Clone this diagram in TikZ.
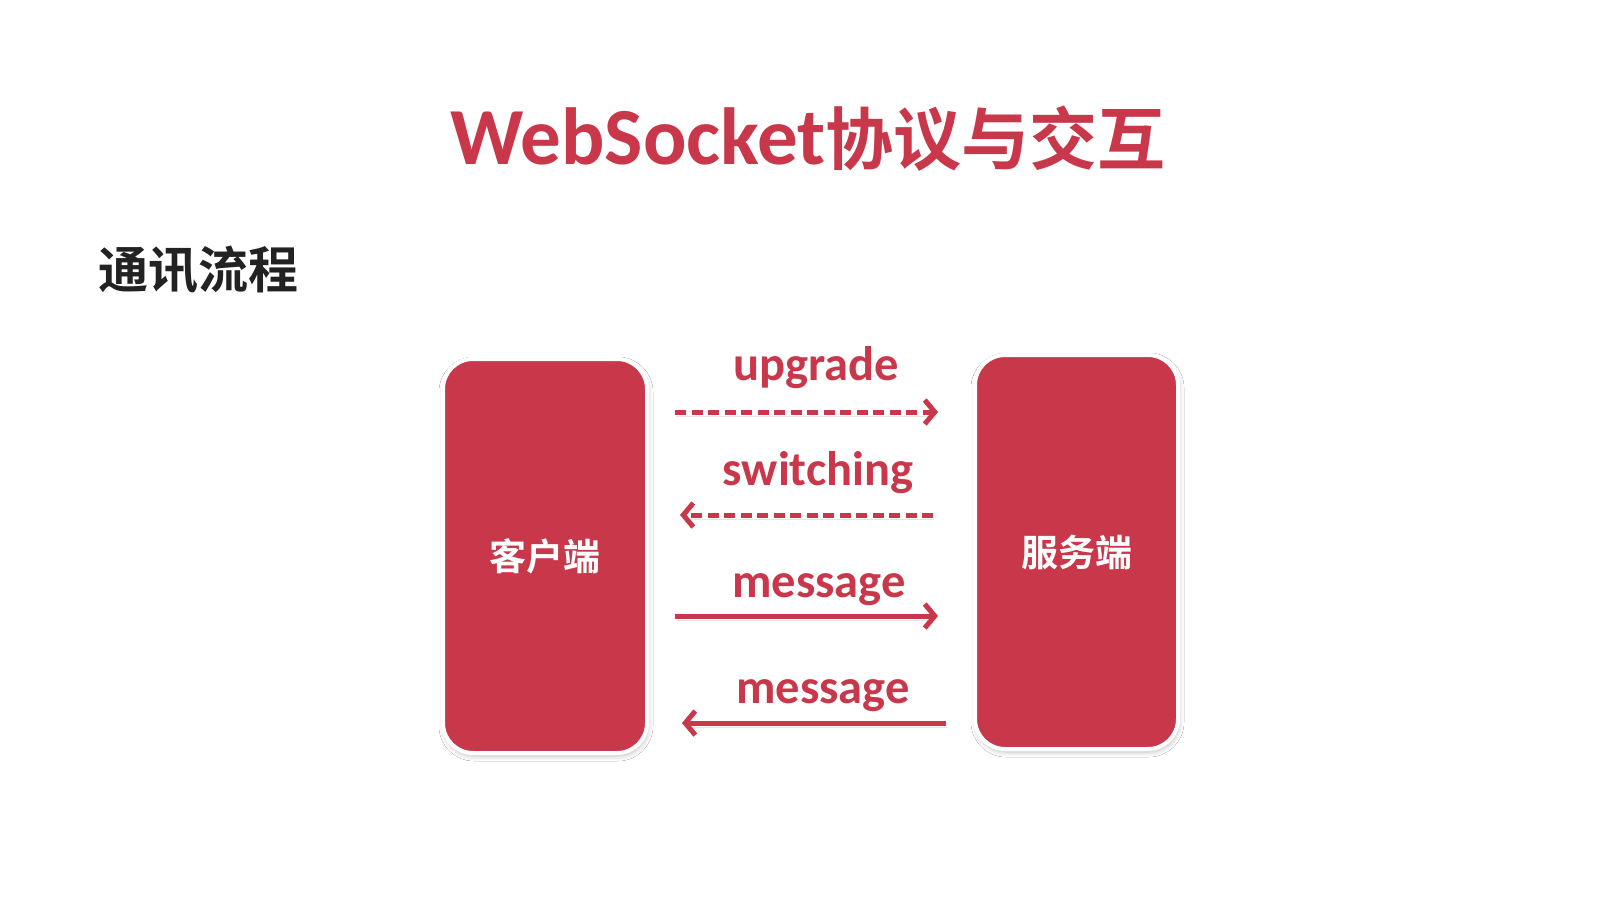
\documentclass[tikz,border=0pt]{standalone}
\usepackage{fontspec}
\setmainfont{Carlito}
\newfontfamily\cjk{Noto Sans CJK SC}[BoldFont={* Bold}]
\usetikzlibrary{arrows.meta,shadows.blur}
\definecolor{wsred}{RGB}{200,56,74}
\definecolor{ink}{RGB}{34,34,34}
\tikzset{
  endbox/.style={rounded corners=30pt, fill=wsred, draw=white, line width=4pt,
    minimum width=204pt, minimum height=394pt, inner sep=0pt,
    blur shadow={shadow blur steps=8, shadow xshift=1pt, shadow yshift=-3pt, shadow opacity=25, shadow blur radius=5pt},
    font=\cjk\bfseries\fontsize{37}{37}\selectfont, text=white},
  lbl/.style={anchor=base, inner sep=0pt, text=wsred,
    font=\bfseries\fontsize{48.5}{48.5}\selectfont},
  flow/.style={draw=wsred, line width=5pt, -{Straight Barb[length=10pt,width=24pt]},
    preaction={draw=black, draw opacity=0.10, transform canvas={yshift=-4pt, xshift=1pt}}},
  dashflow/.style={flow, dash pattern=on 11pt off 5.5pt},
}
\begin{document}
\begin{tikzpicture}[x=1pt,y=-1pt]
\useasboundingbox[fill=white] (0,0) rectangle (1620,911);
% title
\node[anchor=base west, inner sep=0pt, text=wsred] (title) at (450,164)
  {\bfseries\fontsize{81}{81}\selectfont WebSocket\cjk\bfseries\fontsize{68}{68}\selectfont 协议与交互};
% heading
\node[inner sep=0pt, text=ink, font=\cjk\bfseries\fontsize{50}{50}\selectfont] (head) at (198.5,270) {通讯流程};
% boxes
\node[endbox] (client) at (545,556) {客户端};
\node[endbox, minimum width=203pt] (server) at (1076.5,552) {服务端};
% arrow end points
\coordinate (a1s) at (675,412); \coordinate (a1e) at (938,412);
\coordinate (a2s) at (933,515); \coordinate (a2e) at (680,515);
\coordinate (a3s) at (675,616); \coordinate (a3e) at (938,616);
\coordinate (a4s) at (946,723); \coordinate (a4e) at (682,723);
\draw[dashflow] (a1s) -- (a1e);
\draw[dashflow] (a2s) -- (a2e);
\draw[flow] (a3s) -- (a3e);
\draw[flow] (a4s) -- (a4e);
% labels
\node[lbl] (l1) at (816,380) {upgrade};
\node[lbl] (l2) at (818,485) {switching};
\node[lbl] (l3) at (819,597) {message};
\node[lbl] (l4) at (823,703) {message};
\end{tikzpicture}
\end{document}
